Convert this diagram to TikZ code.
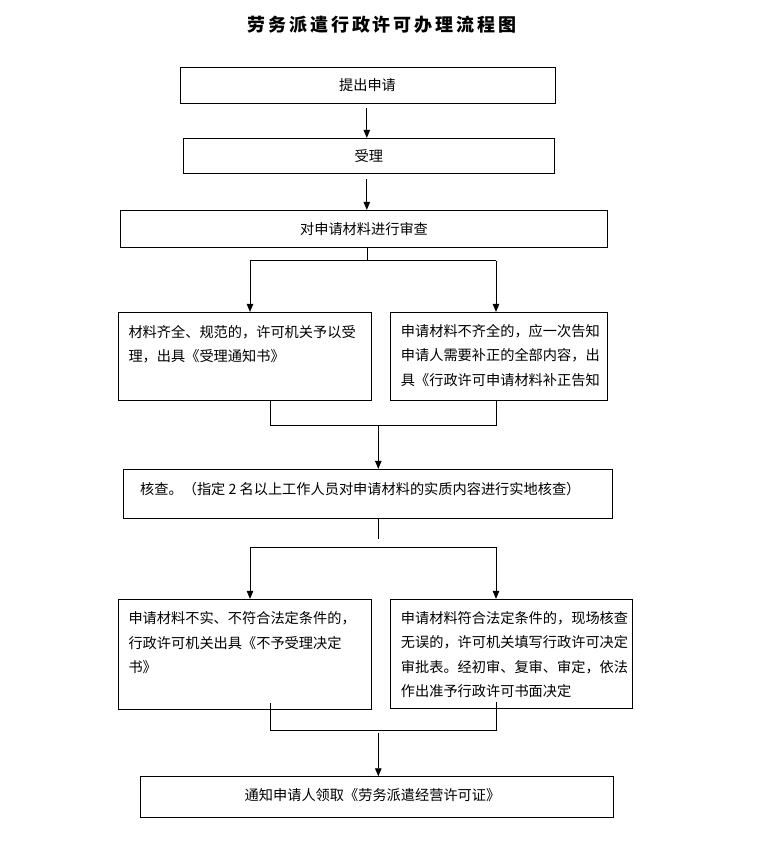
\documentclass[tikz,border=0pt]{standalone}
\usepackage{fontspec}
\newfontfamily\cjk{Noto Sans CJK SC}
\usetikzlibrary{arrows.meta}
\begin{document}
\begin{tikzpicture}[x=1pt,y=-1pt,
  box/.style={draw=black, line width=0.9pt, rectangle, inner sep=0pt},
  txt/.style={font=\cjk\fontsize{14.2}{24.5}\selectfont, inner sep=0pt},
  para/.style={txt, align=left, anchor=base west},
  conn/.style={line width=0.9pt, draw=black},
  arr/.style={conn, -{Triangle[length=8pt,width=6.5pt]}}]
\useasboundingbox[fill=white] (0,0) rectangle (765,846);

% title
\node[font=\cjk\bfseries\fontsize{18}{20}\selectfont\addfontfeature{LetterSpace=16}, inner sep=0pt] (title) at (382,25) {劳务派遣行政许可办理流程图};

% boxes
\node[box, txt, minimum width=375pt, minimum height=36pt] (b1) at (367.5,85.3) {提出申请};
\node[box, txt, minimum width=371pt, minimum height=35pt] (b2) at (368.8,155.8) {受理};
\node[box, txt, minimum width=486.6pt, minimum height=37pt] (b3) at (364,228.8) {对申请材料进行审查};
\node[box, minimum width=253.4pt, minimum height=87.7pt] (b4l) at (245,356.2) {};
\node[box, minimum width=216.6pt, minimum height=87.7pt] (b4r) at (499,356.2) {};
\node[box, minimum width=489pt, minimum height=49pt] (b5) at (367.8,493.8) {};
\node[box, minimum width=253.4pt, minimum height=110pt] (b6l) at (245,654.3) {};
\node[box, minimum width=242pt, minimum height=109pt] (b6r) at (511.7,653.8) {};
\node[box, minimum width=472.6pt, minimum height=41pt] (b7) at (377,797.2) {};

% texts (base anchor = baseline of the last line)
\node[para] (t4l) at (128.3,361.5) {材料齐全、规范的，许可机关予以受\\理，出具《受理通知书》};
\node[para] (t4r) at (400.7,385) {申请材料不齐全的，应一次告知\\申请人需要补正的全部内容，出\\具《行政许可申请材料补正告知};
\node[txt, anchor=west] (t5) at (140,489.5) {核查。（指定 2 名以上工作人员对申请材料的实质内容进行实地核查）};
\node[para] (t6l) at (128.3,672.5) {申请材料不实、不符合法定条件的，\\行政许可机关出具《不予受理决定\\书》};
\node[para] (t6r) at (400.7,696.5) {申请材料符合法定条件的，现场核查\\无误的，许可机关填写行政许可决定\\审批表。经初审、复审、审定，依法\\作出准予行政许可书面决定};
\node[txt] (t7) at (372.5,795) {通知申请人领取《劳务派遣经营许可证》};

% coordinates
\coordinate (a1) at (366.8,108);
\coordinate (a2) at (366.8,179);
\coordinate (s1) at (367,260.5);
\coordinate (j4l) at (250,260.5);
\coordinate (j4r) at (496,260.5);
\coordinate (m4l) at (270.7,425.7);
\coordinate (m4r) at (496.7,425.7);
\coordinate (m4) at (378.3,425.7);
\coordinate (s2) at (378.3,539.3);
\coordinate (j6l) at (250,547.3);
\coordinate (j6r) at (496,547.3);
\coordinate (m6lt) at (270,703.3);
\coordinate (m6rt) at (496.7,701.7);
\coordinate (m6l) at (270,730);
\coordinate (m6r) at (496.7,730);
\coordinate (m6) at (378.3,732.7);

% connectors
\draw[arr] (a1) -- (a1 |- b2.north);
\draw[arr] (a2) -- (a2 |- b3.north);
\draw[conn] (s1 |- b3.south) -- (s1);
\draw[conn] (j4l) -- (j4r);
\draw[arr] (j4l) -- (j4l |- b4l.north);
\draw[arr] (j4r) -- (j4r |- b4r.north);
\draw[conn] (m4l |- b4l.south) -- (m4l) -- (m4r) -- (m4r |- b4r.south);
\draw[arr] (m4) -- (m4 |- b5.north);
\draw[conn] (s2 |- b5.south) -- (s2);
\draw[conn] (j6l) -- (j6r);
\draw[arr] (j6l) -- (j6l |- b6l.north);
\draw[arr] (j6r) -- (j6r |- b6r.north);
\draw[conn] (m6lt) -- (m6l) -- (m6r) -- (m6rt);
\draw[arr] (m6) -- (m6 |- b7.north);
\end{tikzpicture}
\end{document}
